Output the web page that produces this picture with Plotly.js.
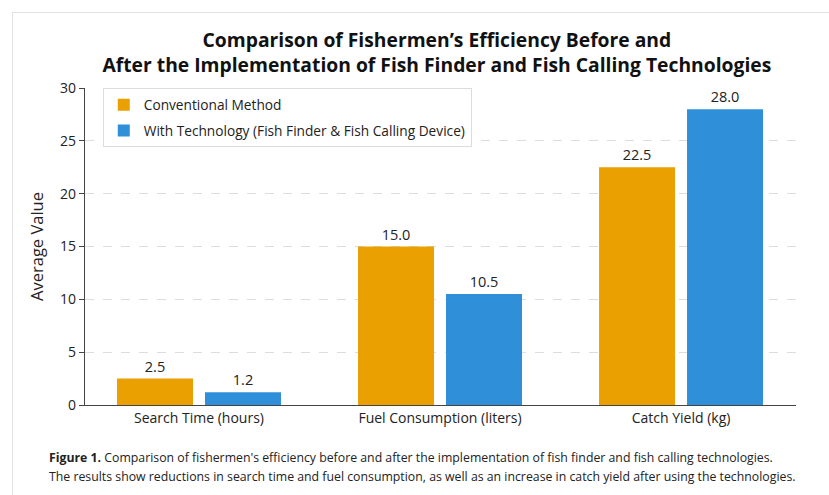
<!DOCTYPE html>
<html>
<head>
<meta charset="utf-8">
<script src="https://cdn.plot.ly/plotly-3.0.1.min.js"></script>
<style>
html,body{margin:0;padding:0;background:#fff;}
#wrap{position:relative;width:829px;height:495px;overflow:hidden;}
#frame{position:absolute;left:12px;top:12px;width:900px;height:600px;border-left:1px solid #e2e2e2;border-top:1px solid #e2e2e2;pointer-events:none;}
#chart{position:absolute;left:0;top:0;width:829px;height:495px;}
</style>
</head>
<body>
<div id="wrap">
<div id="chart"></div>
<div id="frame"></div>
</div>
<script>
const categories = ["Search Time (hours)", "Fuel Consumption (liters)", "Catch Yield (kg)"];
const conventional = [2.5, 15.0, 22.5];
const withTech = [1.2, 10.5, 28.0];
const seriesNames = ["Conventional Method", "With Technology (Fish Finder &amp; Fish Calling Device)"];
const yTicks = [0, 5, 10, 15, 20, 25, 30];
const captionLines = [
  "<b>Figure 1.</b> Comparison of fishermen's efficiency before and after the implementation of fish finder and fish calling technologies.",
  "The results show reductions in search time and fuel consumption, as well as an increase in catch yield after using the technologies."
];

const font = "'Open Sans', 'Noto Sans', sans-serif";

const traces = [
  {
    type: "bar", name: seriesNames[0], x: categories, y: conventional,
    legendgroup: "a",
    marker: {color: "#E9A000"},
    text: conventional.map(v => v.toFixed(1)), textposition: "outside",
    textfont: {size: 14.5, color: "#222", family: font}, cliponaxis: false
  },
  {
    type: "bar", name: seriesNames[1], x: categories, y: withTech,
    legendgroup: "b",
    marker: {color: "#2F8FD9"},
    text: withTech.map(v => v.toFixed(1)), textposition: "outside",
    textfont: {size: 14.5, color: "#222", family: font}, cliponaxis: false
  }
];

const captionY = [-0.167, -0.224];

const layout = {
  width: 829, height: 495,
  margin: {l: 85, r: 33, t: 88, b: 90},
  paper_bgcolor: "rgba(0,0,0,0)", plot_bgcolor: "#fff",
  font: {family: font, color: "#222"},
  title: {
    text: "<b>Comparison of Fishermen’s Efficiency Before and<br>After the Implementation of Fish Finder and Fish Calling Technologies</b>",
    font: {size: 19.3, family: font, color: "#111"},
    x: 0.527, xanchor: "center", xref: "container",
    y: 0.905, yanchor: "top", yref: "container"
  },
  barmode: "group", bargap: 0.27, bargroupgap: 0.136,
  xaxis: {
    type: "category", range: [-0.473, 2.477],
    showline: true, linecolor: "#444", linewidth: 1.2,
    ticks: "", tickfont: {size: 14, color: "#222"},
    showgrid: false, zeroline: false
  },
  yaxis: {
    range: [0, 30], tickvals: yTicks,
    showline: true, linecolor: "#444", linewidth: 1.2,
    ticks: "outside", ticklen: 5, tickcolor: "#444",
    tickfont: {size: 14, color: "#222"},
    showgrid: true, gridcolor: "#dddddd", griddash: "dash", gridwidth: 1,
    zeroline: false,
    title: {text: "Average Value", font: {size: 16.5, color: "#222"}, standoff: 12}
  },
  showlegend: true,
  legend: {
    x: 0.025, y: 0.999, xanchor: "left", yanchor: "top",
    bgcolor: "#fff", bordercolor: "#dcdcdc", borderwidth: 1,
    font: {size: 13.7, color: "#222"}, tracegroupgap: 5
  },
  annotations: captionLines.map((t, i) => ({
    xref: "paper", yref: "paper", x: -0.053, y: captionY[i],
    xanchor: "left", yanchor: "middle", align: "left", showarrow: false,
    font: {size: 12.3, color: "#222", family: font},
    text: t
  }))
};

Plotly.newPlot("chart", traces, layout, {displayModeBar: false, staticPlot: true});
</script>
</body>
</html>
